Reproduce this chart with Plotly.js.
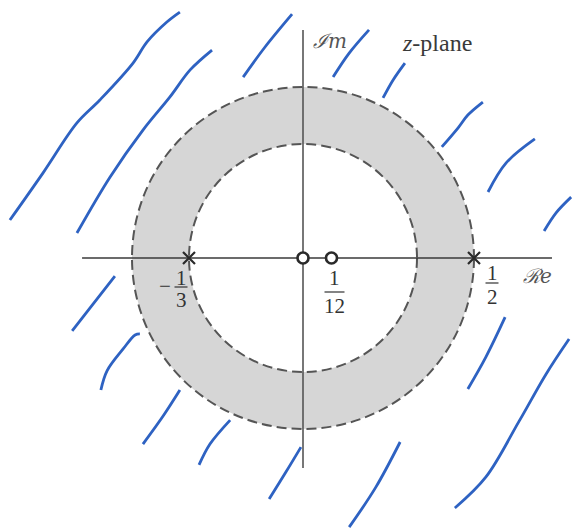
<!DOCTYPE html>
<html>
<head>
<meta charset="utf-8">
<script src="https://cdn.plot.ly/plotly-3.0.1.min.js"></script>
<style>html,body{margin:0;padding:0;background:#fff;}#chart{width:572px;height:528px;}</style>
</head>
<body>
<div id="chart"></div>
<script>
// ROC radii (|z| between 1/3 and 1/2)
const rocInner = 1/3;
const rocOuter = 1/2;
// poles and zeros (real axis)
const poleRe = [-1/3, 1/2];
const poleIm = [0, 0];
const zeroRe = [0, 1/12];
const zeroIm = [0, 0];
const poleLabels = [{num:"1", den:"3", neg:true}, {num:"1", den:"2", neg:false}];
const zeroLabels = [{num:"1", den:"12", neg:false}];
// axis extents
const reAxisX = [-0.646, 0.728];
const imAxisY = [-0.614, 0.667];
// hand-drawn blue hatch strokes (data units)
const strokesX = [
  [-0.857,-0.760,-0.661,-0.594,-0.497,-0.456,-0.398,-0.360],
  [-0.661,-0.564,-0.468,-0.389,-0.330,-0.266],
  [-0.175,-0.111,-0.032],
  [0.088,0.135,0.193],
  [0.234,0.263,0.298],
  [0.406,0.453,0.482,0.526],
  [0.541,0.594,0.678],
  [0.705,0.740,0.784],
  [0.482,0.535,0.591],
  [0.444,0.535,0.632,0.711,0.778],
  [0.135,0.213,0.284],
  [-0.099,-0.050,-0.006],
  [-0.675,-0.614,-0.550],
  [-0.591,-0.573,-0.526,-0.491,-0.477],
  [-0.468,-0.409,-0.360],
  [-0.304,-0.272,-0.213]
];
const strokesY = [
  [0.111,0.249,0.395,0.462,0.570,0.632,0.690,0.719],
  [0.073,0.237,0.374,0.471,0.550,0.608],
  [0.529,0.617,0.713],
  [0.529,0.599,0.667],
  [0.468,0.520,0.570],
  [0.325,0.380,0.418,0.456],
  [0.193,0.278,0.348],
  [0.079,0.132,0.178],
  [-0.383,-0.289,-0.173],
  [-0.731,-0.640,-0.477,-0.339,-0.237],
  [-0.787,-0.670,-0.538],
  [-0.705,-0.626,-0.553],
  [-0.213,-0.135,-0.053],
  [-0.386,-0.330,-0.266,-0.225,-0.222],
  [-0.544,-0.462,-0.386],
  [-0.605,-0.544,-0.474]
];

const W = 572, H = 528, K = 342, CX = 303, CY = 258;
const traces = [];
// axes
traces.push({x: reAxisX, y: [0,0], mode:'lines', line:{color:'#3a3a3a', width:1.5}, hoverinfo:'skip', showlegend:false});
traces.push({x: [0,0], y: imAxisY, mode:'lines', line:{color:'#555', width:1.6}, hoverinfo:'skip', showlegend:false});
// poles
traces.push({x: poleRe, y: poleIm, mode:'markers', marker:{symbol:'x-thin', size:12, line:{width:2.2, color:'#2a2a2a'}}, hoverinfo:'skip', showlegend:false});
// zeros
traces.push({x: zeroRe, y: zeroIm, mode:'markers', marker:{symbol:'circle', size:11, color:'#fff', line:{width:2.6, color:'#2a2a2a'}}, hoverinfo:'skip', showlegend:false});
// strokes
for (let i = 0; i < strokesX.length; i++) {
  traces.push({x: strokesX[i], y: strokesY[i], mode:'lines', line:{color:'#2e62c2', width:2.8, shape:'spline', smoothing:1}, hoverinfo:'skip', showlegend:false});
}

const shapes = [
  {type:'circle', xref:'x', yref:'y', x0:-rocOuter, x1:rocOuter, y0:-rocOuter, y1:rocOuter, fillcolor:'#d6d6d6', line:{color:'#555', width:2, dash:'10px,5px'}, layer:'below'},
  {type:'circle', xref:'x', yref:'y', x0:-rocInner, x1:rocInner, y0:-rocInner, y1:rocInner, fillcolor:'#ffffff', line:{color:'#555', width:2, dash:'10px,5px'}, layer:'below'}
];
const annotations = [];
const fracFont = {family:'Liberation Serif', size:21, color:'#333'};
function addFrac(xv, lab, xs, yNum, yBar, yDen) {
  annotations.push({x:xv, y:0, xref:'x', yref:'y', text:lab.num, showarrow:false, xanchor:'center', yanchor:'middle', xshift:xs, yshift:yNum, font:fracFont});
  annotations.push({x:xv, y:0, xref:'x', yref:'y', text:lab.den, showarrow:false, xanchor:'center', yanchor:'middle', xshift:xs, yshift:yDen, font:fracFont});
  const half = lab.den.length > 1 ? 10 : 6.5;
  shapes.push({type:'line', xref:'x', yref:'y', xsizemode:'pixel', ysizemode:'pixel', xanchor:xv, yanchor:0,
    x0:xs-half, x1:xs+half, y0:yBar, y1:yBar, line:{color:'#333', width:1.2}});
  if (lab.neg) {
    annotations.push({x:xv, y:0, xref:'x', yref:'y', text:'\u2212', showarrow:false, xanchor:'center', yanchor:'middle', xshift:xs-16, yshift:yBar+1, font:fracFont});
  }
}
addFrac(poleRe[0], poleLabels[0], -8, -20, -29, -42);
addFrac(poleRe[1], poleLabels[1], 18, -15, -25, -39);
addFrac(zeroRe[1], zeroLabels[0], 3, -20, -34, -48);

const scriptFont = {family:'DejaVu Serif', size:20, color:'#555'};
annotations.push({xref:'paper', yref:'paper', x:537/W, y:1-276/H, xanchor:'center', yanchor:'middle', text:'<i>\u211Be</i>', showarrow:false, font:scriptFont});
annotations.push({xref:'paper', yref:'paper', x:330/W, y:1-41/H, xanchor:'center', yanchor:'middle', text:'<i>\u2110m</i>', showarrow:false, font:scriptFont});
annotations.push({xref:'paper', yref:'paper', x:437/W, y:1-43/H, xanchor:'center', yanchor:'middle', text:'<i>z</i>-plane', showarrow:false, font:{family:'Liberation Serif', size:24, color:'#3a3a3a'}});

const layout = {
  width: W, height: H,
  margin: {l:0, r:0, t:0, b:0},
  paper_bgcolor: '#fff', plot_bgcolor: '#fff',
  xaxis: {range:[-CX/K, (W-CX)/K], visible:false, fixedrange:true},
  yaxis: {range:[-(H-CY)/K, CY/K], visible:false, fixedrange:true},
  shapes: shapes,
  annotations: annotations,
  showlegend: false
};
Plotly.newPlot('chart', traces, layout, {staticPlot:true, displayModeBar:false});
</script>
</body>
</html>
